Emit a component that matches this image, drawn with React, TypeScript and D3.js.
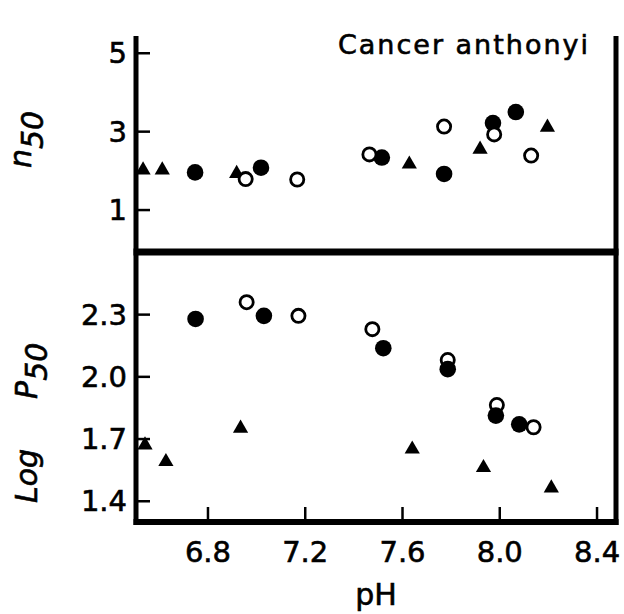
import React from "react";
import * as d3 from "d3";

// ---- data ----
const pHTicks = [6.8, 7.2, 7.6, 8.0, 8.4];
const nTicks = [1, 3, 5];
const logPTicks = [1.4, 1.7, 2.0, 2.3];

// top panel: n50
const nFilledPH = [6.747, 7.018, 7.515, 7.771, 7.972, 8.066];
const nFilled = [1.96, 2.08, 2.34, 1.92, 3.22, 3.5];
const nOpenPH = [6.955, 7.167, 7.464, 7.771, 7.977, 8.129];
const nOpen = [1.79, 1.78, 2.42, 3.13, 2.93, 2.39];
const nTriPH = [6.533, 6.612, 6.918, 7.628, 7.919, 8.196];
const nTri = [2.02, 2.02, 1.93, 2.17, 2.55, 3.11];

// bottom panel: log P50
const pFilledPH = [6.749, 7.03, 7.521, 7.786, 7.984, 8.08];
const pFilled = [2.279, 2.294, 2.138, 2.037, 1.813, 1.771];
const pOpenPH = [6.959, 7.172, 7.476, 7.786, 7.988, 8.139];
const pOpen = [2.36, 2.294, 2.23, 2.081, 1.864, 1.757];
const pTriPH = [6.541, 6.627, 6.934, 7.64, 7.933, 8.212];
const pTri = [1.671, 1.591, 1.752, 1.651, 1.562, 1.464];

const title = "Cancer anthonyi";
const xLabel = "pH";

// ---- layout ----
const W = 624;
const H = 614;
const left = 136;
const right = 616;
const top = 36;
const mid = 252;
const bottom = 522;
const font = "'DejaVu Sans', Verdana, sans-serif";

export default function App() {
  const x = d3.scaleLinear().domain([6.504, 8.478]).range([left, right]);
  const yTop = d3.scaleLinear().domain([-0.07, 5.44]).range([mid, top]);
  const yBot = d3.scaleLinear().domain([1.3, 2.602]).range([bottom, mid]);
  const tri = d3.symbol(d3.symbolTriangle).size(100)();

  const zip = (a: number[], b: number[]) => a.map((v, i) => [v, b[i]] as [number, number]);

  const filled = (pts: [number, number][], ys: d3.ScaleLinear<number, number>, k: string) =>
    pts.map(([px, py], i) => (
      <circle key={k + i} cx={x(px)} cy={ys(py)} r={8.3} fill="#000" />
    ));
  const open = (pts: [number, number][], ys: d3.ScaleLinear<number, number>, k: string) =>
    pts.map(([px, py], i) => (
      <circle key={k + i} cx={x(px)} cy={ys(py)} r={6.6} fill="#fff" stroke="#000" strokeWidth={2.8} />
    ));
  const tris = (pts: [number, number][], ys: d3.ScaleLinear<number, number>, k: string) =>
    pts.map(([px, py], i) => (
      <path key={k + i} d={tri as string} transform={`translate(${x(px)},${ys(py)})`} fill="#000" />
    ));

  return (
    <div style={{ position: "absolute", left: 0, top: 0 }}>
      <svg width={W} height={H} style={{ display: "block", background: "#fff" }}>
        <rect width={W} height={H} fill="#fff" />

        {/* frame */}
        <g stroke="#000" strokeLinecap="butt">
          <line x1={left} x2={left} y1={top} y2={bottom + 3} strokeWidth={5} />
          <line x1={right} x2={right} y1={top} y2={bottom + 3} strokeWidth={5} />
          <line x1={left - 2.5} x2={right + 2.5} y1={mid} y2={mid} strokeWidth={7} />
          <line x1={left - 2.5} x2={right + 2.5} y1={bottom} y2={bottom} strokeWidth={6} />
        </g>

        {/* ticks */}
        <g stroke="#000" strokeWidth={2.5}>
          {nTicks.map((t) => (
            <line key={"nt" + t} x1={left} x2={left + 14} y1={yTop(t)} y2={yTop(t)} />
          ))}
          {logPTicks.map((t) => (
            <line key={"pt" + t} x1={left} x2={left + 14} y1={yBot(t)} y2={yBot(t)} />
          ))}
          {pHTicks.map((t) => (
            <line key={"xt" + t} x1={x(t)} x2={x(t)} y1={bottom} y2={bottom - 15} />
          ))}
        </g>

        {/* tick labels */}
        <g fontFamily={font} fontSize={29} fill="#000" stroke="#000" strokeWidth={0.6}>
          {nTicks.map((t) => (
            <text key={"nl" + t} x={127} y={yTop(t)} textAnchor="end" dominantBaseline="central">
              {String(t)}
            </text>
          ))}
          {logPTicks.map((t) => (
            <text key={"pl" + t} x={127} y={yBot(t)} textAnchor="end" dominantBaseline="central">
              {t.toFixed(1)}
            </text>
          ))}
          {pHTicks.map((t) => (
            <text key={"xl" + t} x={x(t)} y={562} textAnchor="middle">
              {t.toFixed(1)}
            </text>
          ))}
          <text x={(left + right) / 2} y={605} textAnchor="middle" fontSize={30}>
            {xLabel}
          </text>
        </g>

        {/* axis titles */}
        <g fontFamily={font} fontSize={30} fontStyle="italic" fill="#000" stroke="#000" strokeWidth={0.6}>
          <text transform="translate(31,168) rotate(-90)" textAnchor="start">
            <tspan>n</tspan>
            <tspan dy={12}>50</tspan>
          </text>
          <text transform="translate(37,503) rotate(-90)" textAnchor="start">
            <tspan>Log</tspan>
            <tspan dx={50}>P</tspan>
            <tspan dy={10}>50</tspan>
          </text>
        </g>

        {/* title */}
        <text
          x={338}
          y={54}
          fontFamily={font}
          fontSize={27}
          textLength={250}
          lengthAdjust="spacing"
          fill="#000"
          stroke="#000"
          strokeWidth={0.6}
        >
          {title}
        </text>

        {/* top panel marks */}
        {tris(zip(nTriPH, nTri), yTop, "nt")}
        {filled(zip(nFilledPH, nFilled), yTop, "nf")}
        {open(zip(nOpenPH, nOpen), yTop, "no")}

        {/* bottom panel marks */}
        {tris(zip(pTriPH, pTri), yBot, "pt")}
        {open(zip(pOpenPH, pOpen), yBot, "po")}
        {filled(zip(pFilledPH, pFilled), yBot, "pf")}
      </svg>
    </div>
  );
}
